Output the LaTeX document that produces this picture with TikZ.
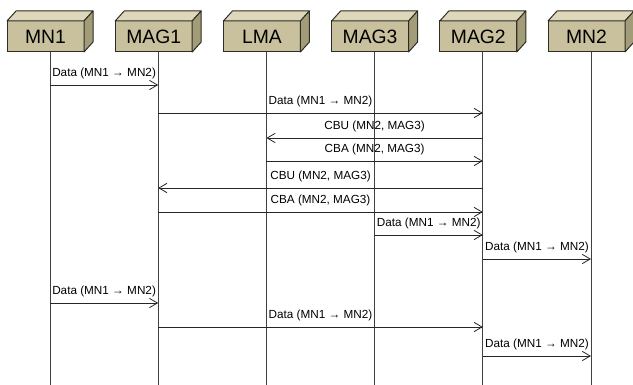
\documentclass[tikz,border=0pt]{standalone}
\usepackage{fontspec}
\setmainfont{Liberation Sans}
\usetikzlibrary{arrows.meta}

\definecolor{boxfront}{RGB}{201,193,158}
\definecolor{boxtop}{RGB}{221,215,188}
\definecolor{boxside}{RGB}{163,156,121}
\definecolor{boxedge}{RGB}{45,45,35}

\begin{document}
\begin{tikzpicture}[x=0.75pt,y=-0.75pt,
    box/.style={draw=boxedge,fill=boxfront,line width=0.75pt,outer sep=0pt,inner sep=0pt,
      minimum width=57.75pt,minimum height=23.25pt,font=\fontsize{14.5}{17}\selectfont},
    face/.style={draw=boxedge,line width=0.75pt,line join=round},
    lifeline/.style={line width=0.6pt,draw=black!75},
    msg/.style={-{Straight Barb[length=6pt,width=7pt]},line width=0.6pt,draw=black!85},
    msglabel/.style={midway,above=1pt,font=\fontsize{8.8}{10}\selectfont}]
      \useasboundingbox (0,0) rectangle (633,385);

      % boxes and lifelines
      \foreach \n/\t [count=\i from 0] in {mn1/MN1,mag1/MAG1,lma/LMA,mag3/MAG3,mag2/MAG2,mn2/MN2}{
        \coordinate (\n-top) at (50+108.2*\i,52);
        \coordinate (\n-end) at (50+108.2*\i,385);
        \draw[lifeline] (\n-top) -- (\n-end);
        \node[box] (\n) at (45.5+108.2*\i,36.5) {\t};
        \filldraw[face,fill=boxtop] (\n.north west) -- ++(9,-10) -- ([shift={(9,-10)}]\n.north east) -- (\n.north east) -- cycle;
        \filldraw[face,fill=boxside] (\n.north east) -- ++(9,-10) -- ++(0,31) -- (\n.south east) -- cycle;
      }

      % messages
      \foreach \a/\b/\y/\t in {mn1/mag1/85/{Data (MN1 → MN2)},
                               mag1/mag2/113/{Data (MN1 → MN2)},
                               mag2/lma/138/{CBU (MN2, MAG3)},
                               lma/mag2/161/{CBA (MN2, MAG3)},
                               mag2/mag1/188/{CBU (MN2, MAG3)},
                               mag1/mag2/212/{CBA (MN2, MAG3)},
                               mag3/mag2/235/{Data (MN1 → MN2)},
                               mag2/mn2/259/{Data (MN1 → MN2)},
                               mn1/mag1/303/{Data (MN1 → MN2)},
                               mag1/mag2/327/{Data (MN1 → MN2)},
                               mag2/mn2/356/{Data (MN1 → MN2)}}
        \draw[msg] (\a-top |- 0,\y) -- (\b-top |- 0,\y) node[msglabel] {\t};
\end{tikzpicture}
\end{document}
